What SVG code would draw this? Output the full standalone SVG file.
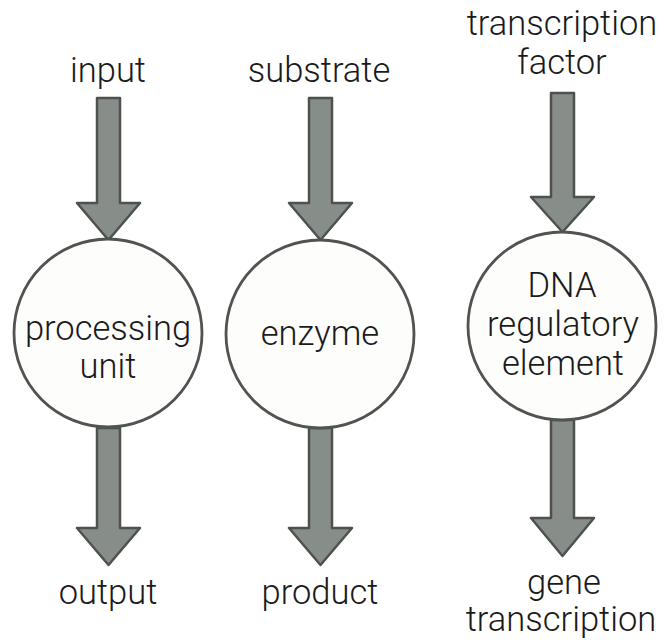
<svg xmlns="http://www.w3.org/2000/svg" width="664" height="643" viewBox="0 0 664 643">
<style>
.arrow{fill:#878d88;stroke:#4d524e;stroke-width:2.5;stroke-linejoin:round}
.node{fill:#fdfdfb;stroke:#4f5450;stroke-width:2.8}
text{font-family:Roboto,"Liberation Sans",Arial,sans-serif;font-weight:300;font-size:34.5px;fill:#1a1a1a;text-anchor:middle}
</style>
<rect width="664" height="643" fill="#ffffff"/>
<g id="connectors">
<path class="arrow" d="M97,98 H120 V203 H140 L108.5,240 L77,203 H97 Z"/>
<path class="arrow" d="M97,428 H120 V528 H140 L108.5,565 L77,528 H97 Z"/>
<path class="arrow" d="M309,98 H332 V203 H352 L320.5,240 L289,203 H309 Z"/>
<path class="arrow" d="M309,428 H332 V528 H352 L320.5,565 L289,528 H309 Z"/>
<path class="arrow" d="M551,93 H574 V197 H594 L562.5,232 L531,197 H551 Z"/>
<path class="arrow" d="M551,420 H574 V518 H594 L562.5,556 L531,518 H551 Z"/>
</g>
<g id="node-input"><text x="108" y="82">input</text></g>
<g id="node-processing-unit">
<circle class="node" cx="108" cy="333" r="94"/>
<text x="108" y="340">processing</text>
<text x="108" y="378">unit</text>
</g>
<g id="node-output"><text x="108" y="604">output</text></g>
<g id="node-substrate"><text x="319" y="82">substrate</text></g>
<g id="node-enzyme">
<circle class="node" cx="320" cy="334" r="94"/>
<text x="320" y="345">enzyme</text>
</g>
<g id="node-product"><text x="320" y="604">product</text></g>
<g id="node-transcription-factor">
<text x="562" y="35">transcription</text>
<text x="562" y="74">factor</text>
</g>
<g id="node-dna">
<circle class="node" cx="562" cy="326" r="94"/>
<text x="562" y="297">DNA</text>
<text x="563" y="336">regulatory</text>
<text x="563" y="375">element</text>
</g>
<g id="node-gene-transcription">
<text x="564" y="594">gene</text>
<text x="561" y="631">transcription</text>
</g>
</svg>
